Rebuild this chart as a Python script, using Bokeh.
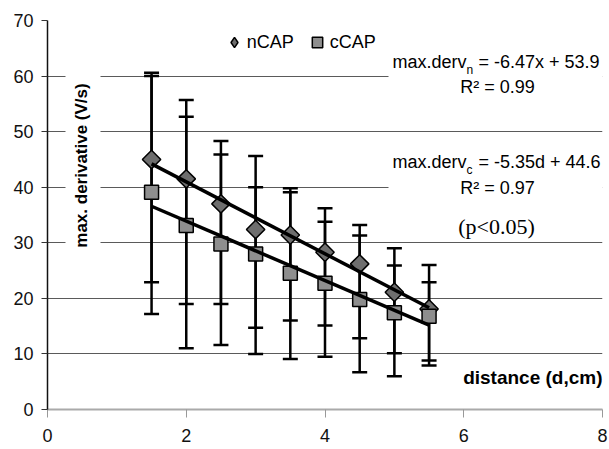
from math import pi
from bokeh.plotting import figure
from bokeh.models import (ColumnDataSource, Whisker, TeeHead, Label, BoxAnnotation,
                          Legend, LegendItem, Range1d, FixedTicker)
from bokeh.embed import file_html
from bokeh.resources import INLINE

# ---- data ----
distance = [1.5, 2.0, 2.5, 3.0, 3.5, 4.0, 4.5, 5.0, 5.5]
ncap = [45.0, 41.5, 37.0, 32.4, 31.4, 28.3, 26.2, 21.1, 18.1]
ncap_upper = [60.0, 52.7, 45.9, 40.0, 39.1, 33.8, 31.3, 25.9, 22.9]
ncap_lower = [22.9, 19.0, 19.0, 14.7, 16.0, 15.1, 12.8, 10.1, 8.8]
ccap = [39.1, 33.1, 29.8, 28.0, 24.5, 22.7, 19.8, 17.4, 16.8]
ccap_upper = [60.6, 55.7, 48.3, 45.6, 39.8, 36.2, 33.2, 29.0, 26.0]
ccap_lower = [17.2, 11.0, 11.6, 10.0, 9.1, 9.5, 6.7, 6.0, 7.9]
n_fit = (-6.47, 53.9)   # slope, intercept
c_fit = (-5.35, 44.6)
x_ticks = [0, 2, 4, 6, 8]
y_ticks = [0, 10, 20, 30, 40, 50, 60, 70]

FONT = "Liberation Sans"

# page-pixel -> data helpers (frame: x 47..602, y 20..409 on page)
def dx(px):
    return (px - 47) / (555 / 8)

def dy(py):
    return (409 - py) / (389 / 70)

p = figure(width=609, height=449, output_backend="svg", toolbar_location=None,
           x_range=Range1d(0, 8), y_range=Range1d(0, 70),
           min_border_left=47, min_border_right=7, min_border_top=20, min_border_bottom=40)
p.outline_line_color = None
p.background_fill_color = "white"
p.border_fill_color = "white"
# off-screen range used only so the legend can show a diamond symbol
p.extra_y_ranges = {"legend_only": Range1d(1000, 1001)}

# axes
p.xaxis.ticker = FixedTicker(ticks=x_ticks)
p.yaxis.ticker = FixedTicker(ticks=y_ticks)
for ax in (p.xaxis, p.yaxis):
    ax.major_label_text_font = FONT
    ax.major_label_text_font_size = "18px"
    ax.major_label_text_color = "#111111"
    ax.minor_tick_line_color = None
    ax.major_tick_in = 0
p.xaxis.axis_line_color = "#aaaaaa"
p.xaxis.axis_line_width = 2
p.xaxis.major_tick_line_color = "#999999"
p.xaxis.major_tick_out = 8
p.xaxis.major_label_standoff = 11
p.yaxis.axis_line_color = "#111111"
p.yaxis.axis_line_width = 1.5
p.yaxis.major_tick_line_color = "#333333"
p.yaxis.major_tick_out = 6
p.yaxis.major_label_standoff = 8

p.xgrid.grid_line_color = None
p.ygrid.grid_line_color = "#5a5a5a"
p.ygrid.grid_line_width = 1.2

src_n = ColumnDataSource(dict(x=distance, y=ncap, upper=ncap_upper, lower=ncap_lower))
src_c = ColumnDataSource(dict(x=distance, y=ccap, upper=ccap_upper, lower=ccap_lower))

for src in (src_n, src_c):
    w = Whisker(source=src, base="x", upper="upper", lower="lower",
                line_width=2.5, line_color="black",
                upper_head=TeeHead(size=15, line_width=2.5, line_color="black"),
                lower_head=TeeHead(size=15, line_width=2.5, line_color="black"))
    p.add_layout(w)

N_FILL = "#6e6e6e"
C_FILL = "#8e8e8e"
rn = p.scatter("x", "y", source=src_n, marker="square", angle=pi / 4, size=13,
               fill_color=N_FILL, line_color="black", line_width=1.5)
rc = p.scatter("x", "y", source=src_c, marker="square", size=14,
               fill_color=C_FILL, line_color="black", line_width=1.5)
# legend-only glyph for the diamond symbol (legend ignores marker angle)
rn_leg = p.scatter("x", "y", source=src_n, y_range_name="legend_only", marker="diamond",
                   size=12, fill_color=N_FILL, line_color="black", line_width=1.5)

xs = [distance[0], distance[-1]]
p.line(xs, [n_fit[0] * x + n_fit[1] for x in xs], line_color="black", line_width=3.5)
p.line(xs, [c_fit[0] * x + c_fit[1] for x in xs], line_color="black", line_width=3.5)

# white boxes behind texts
for (l, r, t, b) in [(65, 100, 58, 262), (388, 610, 46, 97), (388, 610, 146, 200)]:
    p.add_layout(BoxAnnotation(left=dx(l), right=dx(r), top=dy(t), bottom=dy(b),
                               fill_color="white", fill_alpha=1, line_color=None))

legend = Legend(items=[LegendItem(label="nCAP", renderers=[rn_leg]),
                       LegendItem(label="cCAP", renderers=[rc])],
                orientation="horizontal", location=(173.7, 352),
                glyph_width=26, glyph_height=30, label_standoff=0, spacing=10,
                padding=8, margin=0, background_fill_color="white",
                background_fill_alpha=1, border_line_color=None,
                label_text_font=FONT, label_text_font_size="18px",
                label_text_color="black")
p.add_layout(legend)

def lab(x, y, text, size="18px", align="left", font=FONT, style="normal", angle=0):
    p.add_layout(Label(x=x, y=y, text=text, text_font=font, text_font_size=size,
                       text_align=align, text_baseline="middle", text_color="black",
                       text_font_style=style, angle=angle))

lab(dx(81), dy(165), "max. derivative (V/s)", size="17px", style="bold", align="center", angle=pi / 2)
lab(dx(602), dy(377), "distance (d,cm)", size="19px", style="bold", align="right")

lab(dx(392), dy(61), "max.derv")
lab(dx(466), dy(69), "n", size="12px")
lab(dx(478), dy(61), "= -6.47x + 53.9")
lab(dx(497), dy(86), "R\u00b2 = 0.99", align="center")

lab(dx(392), dy(161), "max.derv")
lab(dx(466), dy(169), "c", size="12px")
lab(dx(478), dy(161), "= -5.35d + 44.6")
lab(dx(497), dy(187), "R\u00b2 = 0.97", align="center")

lab(dx(496), dy(226), "(p<0.05)", size="22px", align="center", font="Liberation Serif")

open("out.html", "w").write(file_html(p, INLINE))
